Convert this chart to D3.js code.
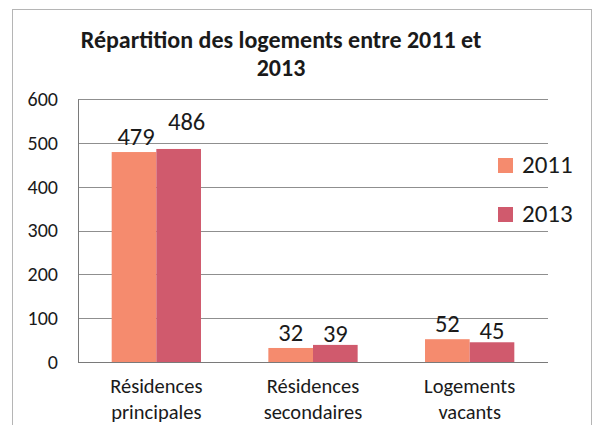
<!DOCTYPE html>
<html>
<head>
<meta charset="utf-8">
<script src="https://cdn.jsdelivr.net/npm/d3@7"></script>
<style>
  body { margin: 0; background: #fff; }
  svg text { font-family: Carlito, Calibri, Lato, sans-serif; fill: #1a1a1a; }
</style>
</head>
<body>
<svg id="chart"></svg>
<script>
const width = 593;
const height = 425;

// data
const categories = ["Résidences principales", "Résidences secondaires", "Logements vacants"];
const seriesNames = ["2011", "2013"];
const values2011 = [479, 32, 52];
const values2013 = [486, 39, 45];
const yTicks = [0, 100, 200, 300, 400, 500, 600];

const seriesColors = ["#F58B6E", "#D05A6D"];

// label nudges (dx, dy from the default spot), the chart had them moved by hand
const labelNudge = [
  [[2, 0], [0, 0], [0, 0]],
  [[8, -12], [0, 4], [0, 4]]
];

const plotLeft = 78, plotRight = 548, plotTop = 99, plotBottom = 362;

var svg = d3.select("#chart")
    .attr("width", width)
    .attr("height", height);

//outer frame
svg.append("rect")
    .attr("x", 12.5)
    .attr("y", 9.5)
    .attr("width", 579)
    .attr("height", 440)
    .attr("fill", "none")
    .attr("stroke", "#b5b5b5");

var x0 = d3.scaleBand()
    .domain(categories)
    .range([plotLeft, plotRight])
    .paddingInner(0.43)
    .paddingOuter(0.215);

var x1 = d3.scaleBand()
    .domain(seriesNames)
    .range([0, x0.bandwidth()]);

var y = d3.scaleLinear()
    .domain([0, 600])
    .range([plotBottom, plotTop]);

// gridlines
svg.append("g")
    .selectAll("line")
    .data(yTicks.filter(d => d > 0))
    .enter().append("line")
    .attr("x1", plotLeft)
    .attr("x2", plotRight)
    .attr("y1", d => Math.round(y(d)) + 0.5)
    .attr("y2", d => Math.round(y(d)) + 0.5)
    .attr("stroke", "#8f8f8f")
    .attr("stroke-width", 1);

// y axis
var yAxis = d3.axisLeft(y).tickValues(yTicks).tickSize(0).tickPadding(20);
var yg = svg.append("g")
    .attr("transform", `translate(${plotLeft}, 0)`)
    .call(yAxis);
yg.select(".domain").attr("stroke", "#7a7a7a");
yg.selectAll("text")
    .attr("font-size", 20)
    .attr("font-family", null);

// bars
var series = seriesNames.map((s, i) => ({
  name: s,
  idx: i,
  values: (i === 0 ? values2011 : values2013)
}));

var groups = svg.append("g")
    .selectAll("g")
    .data(series)
    .enter().append("g")
    .attr("fill", d => seriesColors[d.idx]);

groups.selectAll("rect")
    .data(d => d.values.map((v, j) => ({ s: d.name, i: d.idx, j: j, v: v, cat: categories[j] })))
    .enter().append("rect")
    .attr("x", d => x0(d.cat) + x1(d.s))
    .attr("y", d => y(d.v))
    .attr("width", x1.bandwidth())
    .attr("height", d => plotBottom - y(d.v));

// x axis line
svg.append("line")
    .attr("x1", plotLeft)
    .attr("x2", plotRight)
    .attr("y1", plotBottom + 0.5)
    .attr("y2", plotBottom + 0.5)
    .attr("stroke", "#7a7a7a");

// data labels
groups.selectAll("text")
    .data(d => d.values.map((v, j) => ({ s: d.name, i: d.idx, j: j, v: v, cat: categories[j] })))
    .enter().append("text")
    .attr("x", d => x0(d.cat) + x1(d.s) + x1.bandwidth() / 2 + labelNudge[d.i][d.j][0])
    .attr("y", d => y(d.v) - 7 + labelNudge[d.i][d.j][1])
    .attr("text-anchor", "middle")
    .attr("font-size", 24.5)
    .text(d => d.v);

// category labels
var catLabels = svg.append("g")
    .selectAll("text")
    .data(categories)
    .enter().append("text")
    .attr("text-anchor", "middle")
    .attr("font-size", 20.5)
    .attr("y", 393);

catLabels.each(function(d) {
  var words = d.split(" ");
  var t = d3.select(this);
  words.forEach((w, k) => {
    t.append("tspan")
      .attr("x", x0(d) + x0.bandwidth() / 2)
      .attr("dy", k === 0 ? 0 : 26)
      .text(w);
  });
});

// title
var title = svg.append("text")
    .attr("text-anchor", "middle")
    .attr("font-size", 24)
    .attr("font-weight", "bold")
    .attr("y", 48);
title.append("tspan").attr("x", 281).text("Répartition des logements entre 2011 et");
title.append("tspan").attr("x", 281).attr("dy", 28).text("2013");

// legend
var legend = svg.append("g")
    .selectAll("g")
    .data(seriesNames)
    .enter().append("g")
    .attr("transform", (d, i) => `translate(498, ${158 + i * 49})`);

legend.append("rect")
    .attr("width", 15)
    .attr("height", 15)
    .attr("fill", (d, i) => seriesColors[i]);

legend.append("text")
    .attr("x", 24)
    .attr("y", 15)
    .attr("font-size", 25)
    .text(d => d);
</script>
</body>
</html>
